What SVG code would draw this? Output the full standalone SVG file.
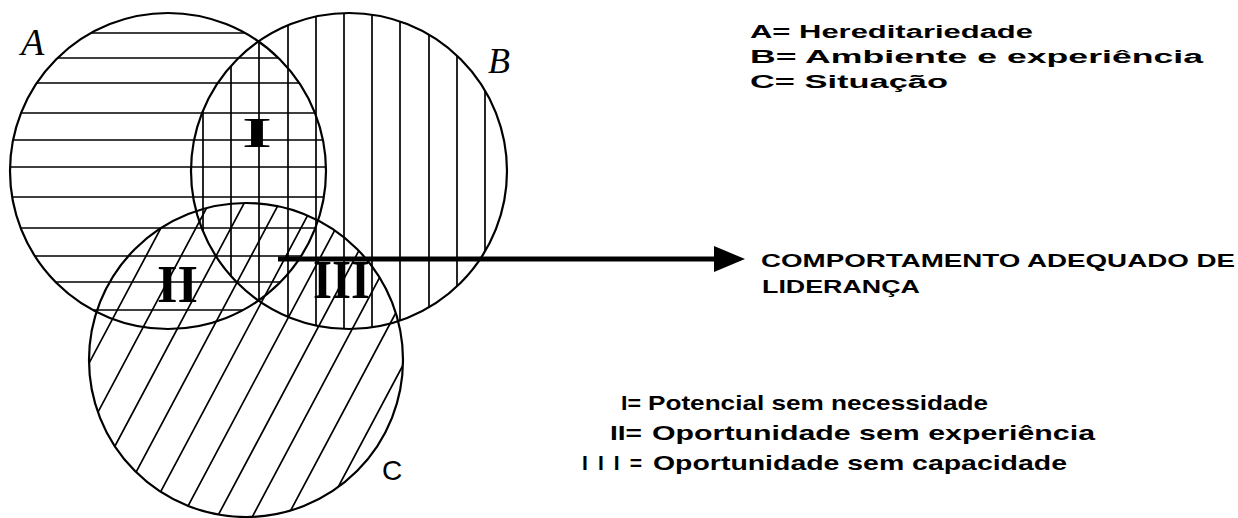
<svg xmlns="http://www.w3.org/2000/svg" width="1238" height="518" viewBox="0 0 1238 518">
<style>
.bg{fill:#fff}
.outline{fill:none;stroke:#000;stroke-width:2.2}
.hatch{fill:none;stroke:#000;stroke-width:1.7}
.hand{font-family:"Liberation Serif",serif;font-style:italic;fill:#000}
.roman{font-family:"Liberation Serif",serif;font-weight:bold;fill:#000}
.txt{font-family:"Liberation Sans",Arial,sans-serif;font-weight:bold;fill:#000}
.conn{stroke:#000;stroke-width:5;fill:none}
</style>
<defs>
<clipPath id="clipA"><circle cx="168" cy="171" r="158"/></clipPath>
<clipPath id="clipB"><circle cx="349" cy="171" r="158"/></clipPath>
<clipPath id="clipC"><circle cx="246" cy="360" r="157"/></clipPath>
<marker id="arrow" markerUnits="userSpaceOnUse" markerWidth="34" markerHeight="28" refX="2" refY="13" orient="auto">
<path d="M0,0 L31,13 L0,26 Z" fill="#000"/>
</marker>
</defs>
<rect class="bg" x="0" y="0" width="1238" height="518"/>

<g id="circle-A">
<path class="hatch" clip-path="url(#clipA)" d="M0,33H340M0,58H340M0,83H340M0,113H340M0,140H340M0,167H340M0,197H340M0,228H340M0,256H340M0,282H340M0,310H340"/>
<circle class="outline" cx="168" cy="171" r="158"/>
<text class="hand" x="21" y="55" font-size="38">A</text>
</g>

<g id="circle-B">
<path class="hatch" clip-path="url(#clipB)" d="M203,0V340M231,0V340M259,0V340M288,0V340M316,0V340M344,0V340M372,0V340M400,0V340M429,0V340M457,0V340M485,0V340"/>
<circle class="outline" cx="349" cy="171" r="158"/>
<text class="hand" x="488" y="73" font-size="36">B</text>
</g>

<g id="circle-C">
<path class="hatch" clip-path="url(#clipC)" d="M-151,617L115,117M-116,617L150,117M-81,617L185,117M-46,617L220,117M-11,617L255,117M24,617L290,117M59,617L325,117M94,617L360,117M129,617L395,117M164,617L430,117M199,617L465,117M234,617L500,117M269,617L535,117M304,617L570,117M339,617L605,117"/>
<circle class="outline" cx="246" cy="360" r="157"/>
<text x="382" y="480" font-size="28" font-family="Liberation Sans, Arial, sans-serif" fill="#000">C</text>
</g>

<g id="region-I">
<text class="roman" x="242" y="147" font-size="42" textLength="30" lengthAdjust="spacingAndGlyphs">I</text>
</g>
<g id="region-II">
<text class="roman" x="157" y="302" font-size="52" textLength="41" lengthAdjust="spacingAndGlyphs">II</text>
</g>
<g id="region-III">
<text class="roman" x="313" y="298" font-size="54" textLength="57" lengthAdjust="spacingAndGlyphs">III</text>
</g>

<g id="connectors">
<line class="conn" x1="278" y1="259" x2="716" y2="259" marker-end="url(#arrow)"/>
</g>

<g id="result">
<text class="txt" x="761" y="267" font-size="19" textLength="474" lengthAdjust="spacingAndGlyphs">COMPORTAMENTO ADEQUADO DE</text>
<text class="txt" x="762" y="293" font-size="19" textLength="158" lengthAdjust="spacingAndGlyphs">LIDERANÇA</text>
</g>

<g id="legend-circles">
<text class="txt" x="750" y="38" font-size="18" textLength="283" lengthAdjust="spacingAndGlyphs">A= Hereditariedade</text>
<text class="txt" x="750" y="63" font-size="18" textLength="453" lengthAdjust="spacingAndGlyphs">B= Ambiente e experiência</text>
<text class="txt" x="750" y="88" font-size="18" textLength="198" lengthAdjust="spacingAndGlyphs">C= Situação</text>
</g>

<g id="legend-regions">
<text class="txt" x="621" y="410" font-size="21" textLength="20" lengthAdjust="spacingAndGlyphs">I=</text>
<text class="txt" x="648" y="410" font-size="21" textLength="340" lengthAdjust="spacingAndGlyphs">Potencial sem necessidade</text>
<text class="txt" x="610" y="440" font-size="21" textLength="32" lengthAdjust="spacingAndGlyphs">II=</text>
<text class="txt" x="652" y="440" font-size="21" textLength="443" lengthAdjust="spacingAndGlyphs">Oportunidade sem experiência</text>
<text class="txt" x="582" y="470" font-size="21" textLength="60" lengthAdjust="spacing">III=</text>
<text class="txt" x="653" y="470" font-size="21" textLength="414" lengthAdjust="spacingAndGlyphs">Oportunidade sem capacidade</text>
</g>
</svg>
